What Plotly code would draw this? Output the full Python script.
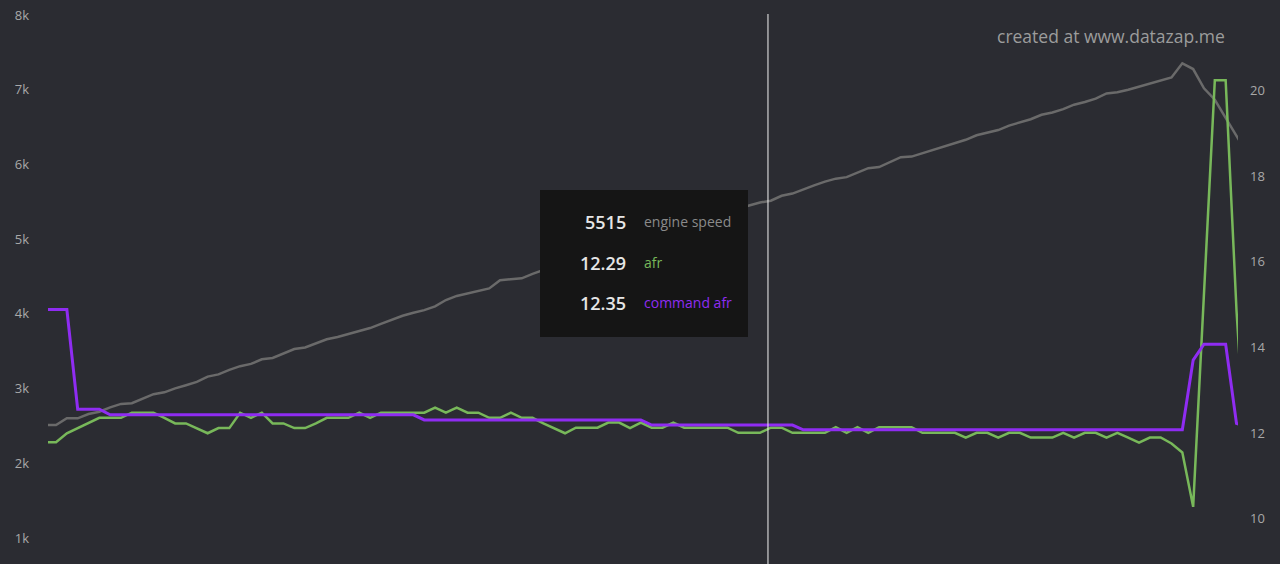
import plotly.graph_objects as go

# ---- data ----
sample = list(range(112))

engine_speed = [
    2512, 2512, 2602, 2602, 2660, 2690, 2749, 2795, 2805, 2869,
    2925, 2950, 3003, 3045, 3090, 3160, 3190, 3250, 3300, 3330,
    3392, 3410, 3475, 3530, 3550, 3600, 3660, 3690, 3730, 3770,
    3810, 3865, 3920, 3975, 4015, 4050, 4100, 4185, 4240, 4275,
    4305, 4340, 4450, 4460, 4476, 4535, 4590, 4640, 4690, 4730,
    4790, 4830, 4870, 4920, 4970, 5010, 5060, 5100, 5150, 5190,
    5240, 5280, 5330, 5370, 5420, 5457, 5490, 5515, 5580, 5610,
    5670, 5720, 5770, 5810, 5830, 5890, 5950, 5965, 6030, 6097,
    6105, 6150, 6200, 6250, 6290, 6330, 6390, 6420, 6460, 6520,
    6560, 6605, 6665, 6695, 6740, 6800, 6835, 6880, 6950, 6965,
    7000, 7040, 7085, 7125, 7165, 7353, 7277, 7019, 6866, 6624,
    6384, 6143,
]

afr = [
    11.95, 11.95, 12.16, 12.28, 12.39, 12.52, 12.52, 12.52, 12.64, 12.64,
    12.64, 12.52, 12.39, 12.39, 12.28, 12.16, 12.28, 12.28, 12.64, 12.52,
    12.64, 12.39, 12.39, 12.28, 12.28, 12.39, 12.52, 12.52, 12.52, 12.64,
    12.52, 12.64, 12.64, 12.64, 12.64, 12.64, 12.76, 12.64, 12.76, 12.64,
    12.64, 12.52, 12.52, 12.64, 12.52, 12.52, 12.39, 12.28, 12.16, 12.29,
    12.29, 12.29, 12.41, 12.41, 12.28, 12.41, 12.29, 12.29, 12.41, 12.29,
    12.29, 12.29, 12.29, 12.29, 12.17, 12.17, 12.17, 12.29, 12.29, 12.17,
    12.17, 12.17, 12.17, 12.30, 12.17, 12.30, 12.17, 12.30, 12.30, 12.30,
    12.30, 12.17, 12.17, 12.17, 12.17, 12.06, 12.17, 12.17, 12.06, 12.17,
    12.17, 12.06, 12.06, 12.06, 12.17, 12.06, 12.17, 12.17, 12.06, 12.17,
    12.06, 11.94, 12.06, 12.06, 11.92, 11.71, 10.44, 15.43, 20.41, 20.41,
    15.04, 11.00,
]

command_afr = [
    15.05, 15.05, 15.05, 12.72, 12.72, 12.72, 12.59, 12.59, 12.59, 12.59,
    12.59, 12.59, 12.59, 12.59, 12.59, 12.59, 12.59, 12.59, 12.59, 12.59,
    12.59, 12.59, 12.59, 12.59, 12.59, 12.59, 12.59, 12.59, 12.59, 12.59,
    12.59, 12.59, 12.59, 12.59, 12.59, 12.47, 12.47, 12.47, 12.47, 12.47,
    12.47, 12.47, 12.47, 12.47, 12.47, 12.47, 12.47, 12.47, 12.47, 12.47,
    12.47, 12.47, 12.47, 12.47, 12.47, 12.47, 12.35, 12.35, 12.35, 12.35,
    12.35, 12.35, 12.35, 12.35, 12.35, 12.35, 12.35, 12.35, 12.35, 12.35,
    12.24, 12.24, 12.24, 12.24, 12.24, 12.24, 12.24, 12.24, 12.24, 12.24,
    12.24, 12.24, 12.24, 12.24, 12.24, 12.24, 12.24, 12.24, 12.24, 12.24,
    12.24, 12.24, 12.24, 12.24, 12.24, 12.24, 12.24, 12.24, 12.24, 12.24,
    12.24, 12.24, 12.24, 12.24, 12.24, 12.24, 13.87, 14.24, 14.24, 14.24,
    12.39, 12.30,
]

rpm_ticks = [1000, 2000, 3000, 4000, 5000, 6000, 7000, 8000]
rpm_tick_labels = ["1k", "2k", "3k", "4k", "5k", "6k", "7k", "8k"]
afr_ticks = [10, 12, 14, 16, 18, 20]
afr_tick_labels = ["10", "12", "14", "16", "18", "20"]

series_names = ["engine speed", "afr", "command afr"]
hover_index = 67
hover_position = 66.74
watermark = "created at www.datazap.me"

# ---- styling ----
BG = "#2b2c32"
GRAY = "#6a6a6a"
GREEN = "#78b85a"
PURPLE = "#8f2cf2"
FONT = "Open Sans"

fig = go.Figure()
fig.add_trace(go.Scatter(x=sample, y=engine_speed, mode="lines", name=series_names[0],
                         line=dict(color=GRAY, width=2.5), yaxis="y"))
fig.add_trace(go.Scatter(x=sample, y=afr, mode="lines", name=series_names[1],
                         line=dict(color=GREEN, width=2.5), yaxis="y2"))
fig.add_trace(go.Scatter(x=sample, y=command_afr, mode="lines", name=series_names[2],
                         line=dict(color=PURPLE, width=3), yaxis="y2"))

W, H = 1280, 564
L, R = 48, 42
plot_w = W - L - R


def px_x(p):
    return (p - L) / plot_w


def px_y(p):
    return 1 - p / H


fig.update_layout(
    width=W, height=H,
    margin=dict(l=L, r=R, t=0, b=0, pad=0),
    paper_bgcolor=BG, plot_bgcolor=BG,
    showlegend=False, hovermode=False,
    font=dict(family=FONT, color="#a8a8a8", size=13),
    xaxis=dict(range=[0.2585, 110.14], visible=False, showgrid=False, zeroline=False),
    yaxis=dict(range=[652, 8201], tickvals=rpm_ticks, ticktext=rpm_tick_labels,
               showgrid=False, zeroline=False, showline=False, ticks="",
               ticklabelstandoff=18,
               tickfont=dict(size=13, color="#a8a8a8", family=FONT, weight=500)),
    yaxis2=dict(range=[9.105, 22.283], tickvals=afr_ticks, ticktext=afr_tick_labels,
                overlaying="y", side="right", showgrid=False, zeroline=False,
                showline=False, ticks="", ticklabelshift=-7, ticklabelstandoff=11,
                tickfont=dict(size=13, color="#a8a8a8", family=FONT, weight=500)),
)

# hover line
fig.add_shape(type="line", xref="x", yref="paper", x0=hover_position, x1=hover_position,
              y0=0, y1=px_y(14), line=dict(color="#f2f2f2", width=1))

# tooltip box
fig.add_shape(type="rect", xref="paper", yref="paper",
              x0=px_x(540), x1=px_x(748), y0=px_y(337), y1=px_y(190),
              fillcolor="#151515", line=dict(width=0), layer="above")

values = [
    str(engine_speed[hover_index]),
    f"{afr[hover_index]:.2f}",
    f"{command_afr[hover_index]:.2f}",
]
rows_y = [222, 263, 303]
colors = ["#8a8a8a", GREEN, PURPLE]
for v, name, yy, c in zip(values, series_names, rows_y, colors):
    fig.add_annotation(xref="paper", yref="paper", x=px_x(628), y=px_y(yy),
                       text=v, showarrow=False, xanchor="right", yanchor="middle",
                       font=dict(family=FONT, size=18, color="#e6e6e6", weight=600))
    fig.add_annotation(xref="paper", yref="paper", x=px_x(642), y=px_y(yy - 1),
                       text=name, showarrow=False, xanchor="left", yanchor="middle",
                       font=dict(family=FONT, size=14, color=c))

# watermark
fig.add_annotation(xref="paper", yref="paper", x=px_x(1227), y=px_y(36),
                   text=watermark, showarrow=False, xanchor="right", yanchor="middle",
                   font=dict(family=FONT, size=17.5, color="#9c9c9c", weight=500))

fig.write_html("out.html", config={"displayModeBar": False},
               post_script="document.body.style.margin='0';")
